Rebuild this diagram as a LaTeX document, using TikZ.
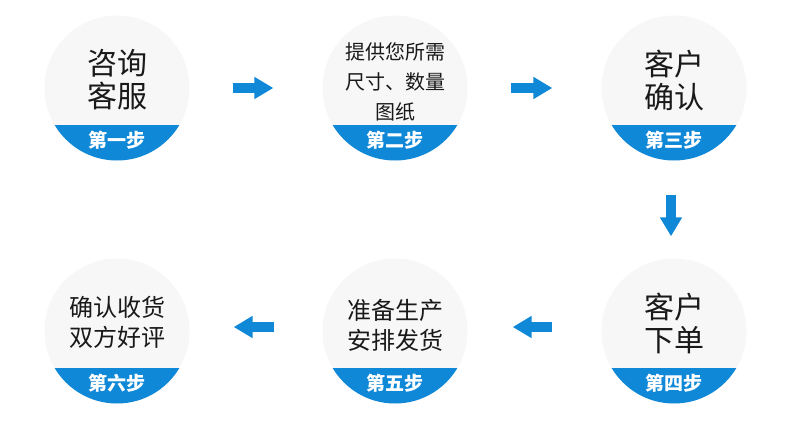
\documentclass[tikz,border=0pt]{standalone}
\usepackage{fontspec}
\newfontfamily\cjk{Noto Sans CJK SC}
\usetikzlibrary{arrows.meta,calc}
\definecolor{stepblue}{RGB}{16,136,216}
\definecolor{stepgray}{RGB}{247,247,247}
\begin{document}
\begin{tikzpicture}[x=1pt,y=-1pt,
	stepdisc/.style={circle,fill=stepgray,minimum size=145pt,inner sep=0pt},
	bigtext/.style={font=\cjk\fontsize{30}{33}\selectfont,align=center,text=black!90},
	midtext/.style={font=\cjk\fontsize{24}{30}\selectfont,align=center,text=black!90},
	smalltext/.style={font=\cjk\fontsize{20}{30}\selectfont,align=center,text=black!90},
	bandtext/.style={font=\cjk\bfseries\fontsize{19}{19}\selectfont,text=white},
	bigarrow/.style={draw=stepblue,line width=10pt,-{Triangle[length=19pt,width=21pt]}}]
\useasboundingbox[fill=white] (0,0) rectangle (790,439);
% the six steps
\node[stepdisc] (s1) at (117,88) {};
\node[stepdisc] (s2) at (395,88) {};
\node[stepdisc] (s3) at (674,88) {};
\node[stepdisc] (s4) at (674,331) {};
\node[stepdisc] (s5) at (395,331) {};
\node[stepdisc] (s6) at (117,331) {};
\foreach \n in {s1,s2,s3,s4,s5,s6}{
	\begin{scope}
	\clip (\n.center) circle (72.5);
	\fill[stepblue] ($(\n.center)+(-80,37)$) rectangle ($(\n.center)+(80,80)$);
	\end{scope}
}
% texts
\node[bigtext] (t1) at ($(s1)+(0,-8)$) {咨询\\客服};
\node[smalltext] (t2) at ($(s2)+(0,-6)$) {提供您所需\\尺寸、数量\\图纸};
\node[bigtext] (t3) at ($(s3)+(0,-8)$) {客户\\确认};
\node[bigtext] (t4) at ($(s4)+(0,-8)$) {客户\\下单};
\node[midtext] (t5) at ($(s5)+(0,-6)$) {准备生产\\安排发货};
\node[midtext] (t6) at ($(s6)+(0,-9)$) {确认收货\\双方好评};
\node[bandtext] (b1) at ($(s1)+(0,52)$) {第一步};
\node[bandtext] (b2) at ($(s2)+(0,52)$) {第二步};
\node[bandtext] (b3) at ($(s3)+(0,52)$) {第三步};
\node[bandtext] (b4) at ($(s4)+(0,52)$) {第四步};
\node[bandtext] (b5) at ($(s5)+(0,52)$) {第五步};
\node[bandtext] (b6) at ($(s6)+(0,52)$) {第六步};
% arrows
\draw[bigarrow,shorten <=43pt,shorten >=49pt] (s1.east) -- (s2.west);
\draw[bigarrow,shorten <=43pt,shorten >=49pt] (s2.east) -- (s3.west);
\draw[bigarrow,shorten <=34pt,shorten >=22pt] ($(s3.south)+(-3,0)$) -- ($(s4.north)+(-3,0)$);
\draw[bigarrow,shorten <=49pt,shorten >=45pt] ($(s4.west)+(0,-4)$) -- ($(s5.east)+(0,-4)$);
\draw[bigarrow,shorten <=48pt,shorten >=44pt] ($(s5.west)+(0,-4)$) -- ($(s6.east)+(0,-4)$);
\end{tikzpicture}
\end{document}
